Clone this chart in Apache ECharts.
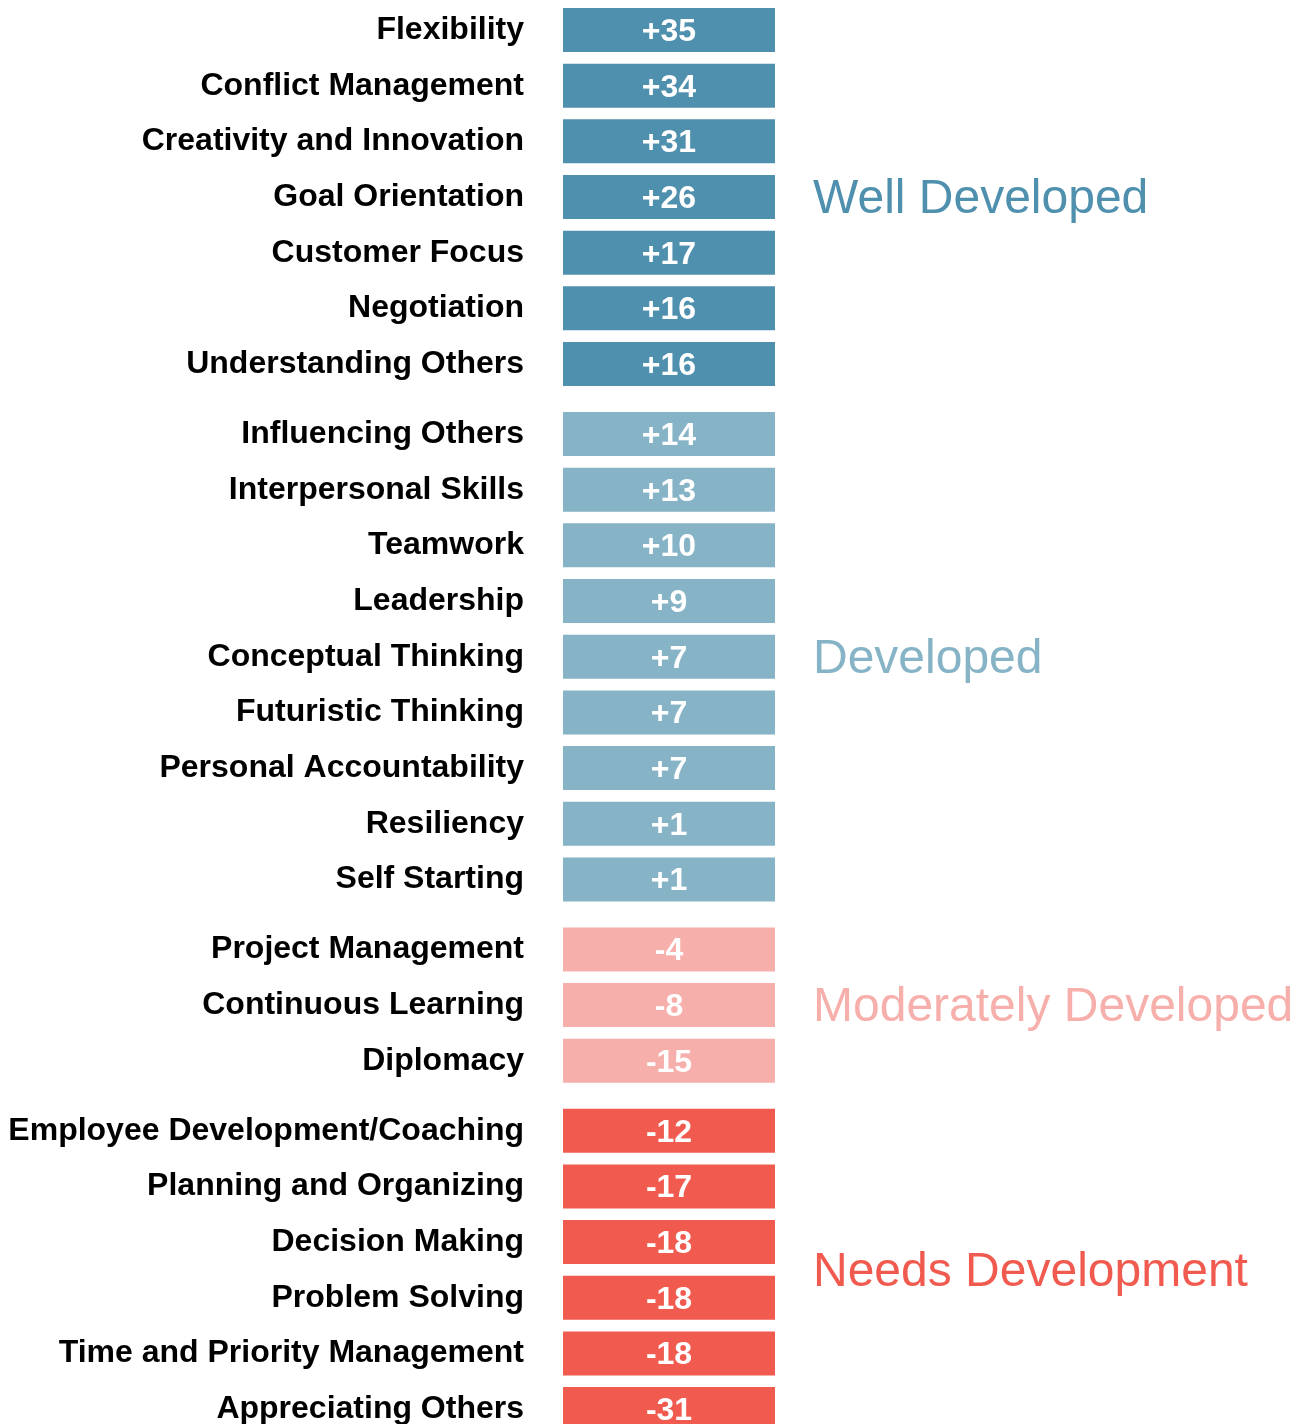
<!DOCTYPE html>
<html>
<head>
<meta charset="utf-8">
<script src="https://cdn.jsdelivr.net/npm/echarts@6/dist/echarts.min.js"></script>
<style>
  html, body { margin: 0; padding: 0; background: #ffffff; overflow: hidden; }
  #chart { width: 1311px; height: 1450px; }
</style>
</head>
<body>
<div id="chart"></div>
<script>
// ---- data ----
const groupNames = ['Well Developed', 'Developed', 'Moderately Developed', 'Needs Development'];

const wellLabels = ['Flexibility', 'Conflict Management', 'Creativity and Innovation', 'Goal Orientation',
  'Customer Focus', 'Negotiation', 'Understanding Others'];
const wellValues = [35, 34, 31, 26, 17, 16, 16];

const developedLabels = ['Influencing Others', 'Interpersonal Skills', 'Teamwork', 'Leadership',
  'Conceptual Thinking', 'Futuristic Thinking', 'Personal Accountability', 'Resiliency', 'Self Starting'];
const developedValues = [14, 13, 10, 9, 7, 7, 7, 1, 1];

const moderateLabels = ['Project Management', 'Continuous Learning', 'Diplomacy'];
const moderateValues = [-4, -8, -15];

const needsLabels = ['Employee Development/Coaching', 'Planning and Organizing', 'Decision Making',
  'Problem Solving', 'Time and Priority Management', 'Appreciating Others'];
const needsValues = [-12, -17, -18, -18, -18, -31];

// ---- styling / layout ----
const groups = [
  { name: groupNames[0], labels: wellLabels, values: wellValues, color: '#4f90ae' },
  { name: groupNames[1], labels: developedLabels, values: developedValues, color: '#86b3c6' },
  { name: groupNames[2], labels: moderateLabels, values: moderateValues, color: '#f7afab' },
  { name: groupNames[3], labels: needsLabels, values: needsValues, color: '#f15b4f' }
];

const FONT = '"Liberation Sans", Arial, Helvetica, sans-serif';
const ROW = 55.67;        // row pitch (px)
const GAP = 14.33;        // extra space between groups
const BAR_RATIO = 44 / ROW;
const GRID_LEFT = 563;
const GRID_WIDTH = 212;
let curTop = 2.17;

const grids = [], xAxes = [], yAxes = [], seriesList = [], graphics = [];

function fmt(v) { return v > 0 ? '+' + v : String(v); }

groups.forEach((g, gi) => {
  const h = g.labels.length * ROW;
  grids.push({ left: GRID_LEFT, width: GRID_WIDTH, top: curTop, height: h, containLabel: false });
  xAxes.push({ gridIndex: gi, type: 'category', data: ['score'], show: false });
  yAxes.push({
    gridIndex: gi, type: 'category', data: g.labels, inverse: true,
    axisLine: { show: false }, axisTick: { show: false }, splitLine: { show: false },
    axisLabel: {
      margin: 39, color: '#000', fontSize: 32, fontWeight: 'bold', fontFamily: FONT,
      padding: [7, 0, 0, 0]
    }
  });
  const color = g.color;
  seriesList.push({
    type: 'custom',
    xAxisIndex: gi, yAxisIndex: gi,
    encode: { x: 0, y: 1 },
    data: g.values.map((v, i) => [0, i, v]),
    renderItem: function (params, api) {
      const c = api.coord([api.value(0), api.value(1)]);
      const s = api.size([1, 1]);
      const bh = s[1] * BAR_RATIO;
      return {
        type: 'rect',
        shape: { x: c[0] - s[0] / 2, y: c[1] - bh / 2, width: s[0], height: bh },
        style: { fill: color },
        textContent: {
          type: 'text',
          style: {
            text: fmt(api.value(2)), fill: '#ffffff',
            fontSize: 32, fontWeight: 'bold', fontFamily: FONT
          }
        },
        textConfig: { position: 'inside', offset: [0, 2] }
      };
    }
  });
  graphics.push({
    type: 'text',
    x: 813,
    y: curTop + h / 2 + 3,
    style: {
      text: g.name, fill: color, fontSize: 48, fontFamily: FONT,
      textAlign: 'left', textVerticalAlign: 'middle', align: 'left', verticalAlign: 'middle'
    }
  });
  curTop += h + GAP;
});

const chart = echarts.init(document.getElementById('chart'), null, { renderer: 'canvas' });
chart.setOption({
  animation: false,
  backgroundColor: '#ffffff',
  grid: grids, xAxis: xAxes, yAxis: yAxes, series: seriesList, graphic: graphics
});
</script>
</body>
</html>
